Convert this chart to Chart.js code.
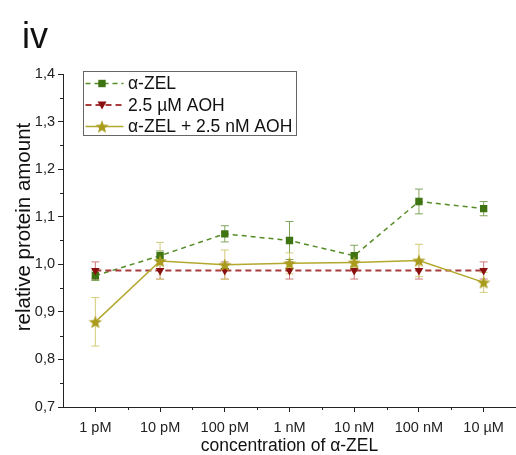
<!DOCTYPE html>
<html>
<head>
<meta charset="utf-8">
<script src="https://cdn.jsdelivr.net/npm/chart.js@4"></script>
<style>
  html, body { margin: 0; padding: 0; background: #fff; }
  #wrap { width: 516px; height: 455px; }
</style>
</head>
<body>
<div id="wrap"><canvas id="chart" width="516" height="455"></canvas></div>
<script>
// data
const categories = ["1 pM", "10 pM", "100 pM", "1 nM", "10 nM", "100 nM", "10 µM"];
const zelValues = [0.976, 1.018, 1.064, 1.050, 1.018, 1.132, 1.117];
const zelErrors = [0.010, 0.010, 0.017, 0.040, 0.022, 0.026, 0.015];
const aohValues = [0.987, 0.987, 0.987, 0.987, 0.987, 0.987, 0.987];
const aohErrors = [0.018, 0.018, 0.018, 0.018, 0.018, 0.018, 0.018];
const mixValues = [0.879, 1.007, 0.999, 1.002, 1.004, 1.008, 0.962];
const mixErrors = [0.051, 0.039, 0.031, 0.022, 0.010, 0.034, 0.021];
const yTicks = [0.7, 0.8, 0.9, 1.0, 1.1, 1.2, 1.3, 1.4];

const FONT = "'Liberation Sans', Arial, sans-serif";

function makeStar(size, color) {
    const c = document.createElement("canvas");
    c.width = size; c.height = size;
    const g = c.getContext("2d");
    const cx = size / 2, cy = size / 2 + size * 0.05;
    const R = size / 2, r = R * 0.42;
    g.beginPath();
    for (let i = 0; i < 10; i++) {
        const rad = i % 2 === 0 ? R : r;
        const a = -Math.PI / 2 + i * Math.PI / 5;
        g.lineTo(cx + rad * Math.cos(a), cy + rad * Math.sin(a));
    }
    g.closePath();
    g.fillStyle = color;
    g.fill();
    return c;
}
const starImg = makeStar(14, "#a99c1c");

const series = [
    { label: "α-ZEL", values: zelValues, errors: zelErrors, line: "#558c26", mark: "#3f7412", err: "#7fa55a", dash: [5, 4], width: 1.5, style: "rect", radius: 5.2, rot: 0, order: 3 },
    { label: "2.5 µM AOH", values: aohValues, errors: aohErrors, line: "#a83b3b", mark: "#8a0f0f", err: "#cf7a7a", dash: [6, 4], width: 2, style: "triangle", radius: 5, rot: 180, order: 2 },
    { label: "α-ZEL + 2.5 nM AOH", values: mixValues, errors: mixErrors, line: "#b3a82e", mark: "#a99c1c", err: "#d3cb7a", dash: [], width: 1.5, style: starImg, radius: 7, rot: 0, order: 1 }
];

const errorBars = {
    id: "errorBars",
    beforeDatasetsDraw(chart) {
        const ctx = chart.ctx, y = chart.scales.y;
        ctx.save();
        ctx.lineWidth = 1;
        series.forEach((s, di) => {
            const meta = chart.getDatasetMeta(di);
            ctx.strokeStyle = s.err;
            meta.data.forEach((pt, i) => {
                const top = y.getPixelForValue(s.values[i] + s.errors[i]);
                const bot = y.getPixelForValue(s.values[i] - s.errors[i]);
                ctx.beginPath();
                ctx.moveTo(pt.x, top); ctx.lineTo(pt.x, bot);
                ctx.moveTo(pt.x - 4, top); ctx.lineTo(pt.x + 4, top);
                ctx.moveTo(pt.x - 4, bot); ctx.lineTo(pt.x + 4, bot);
                ctx.stroke();
            });
        });
        ctx.restore();
    }
};

const extras = {
    id: "extras",
    afterDraw(chart) {
        const ctx = chart.ctx, x = chart.scales.x, y = chart.scales.y;
        const a = chart.chartArea;
        ctx.save();
        ctx.strokeStyle = "#222";
        ctx.lineWidth = 1;
        // minor ticks
        ctx.beginPath();
        for (let i = 0; i < categories.length; i++) {
            const px = Math.round((x.getPixelForValue(i) + x.getPixelForValue(i + 1)) / 2) + 0.5;
            ctx.moveTo(px, a.bottom); ctx.lineTo(px, a.bottom + 3);
        }
        for (let i = 0; i < yTicks.length - 1; i++) {
            const py = Math.round(y.getPixelForValue(yTicks[i] + 0.05)) + 0.5;
            ctx.moveTo(a.left, py); ctx.lineTo(a.left - 3, py);
        }
        ctx.stroke();

        // axis titles
        ctx.fillStyle = "#111";
        ctx.textAlign = "center";
        ctx.textBaseline = "middle";
        ctx.font = "17.5px " + FONT;
        ctx.fillText("concentration of α-ZEL", (a.left + a.right) / 2, 446);
        ctx.save();
        ctx.translate(24, 227);
        ctx.rotate(-Math.PI / 2);
        ctx.font = "20.5px " + FONT;
        ctx.fillText("relative protein amount", 0, 0);
        ctx.restore();

        // panel label
        ctx.textAlign = "left";
        ctx.font = "36px " + FONT;
        ctx.textBaseline = "alphabetic";
        ctx.fillText("iv", 22, 48);

        // legend
        const bx = 83.5, by = 71.5, bw = 213, bh = 64;
        ctx.fillStyle = "#fff";
        ctx.fillRect(bx, by, bw, bh);
        ctx.strokeStyle = "#666";
        ctx.strokeRect(bx, by, bw, bh);
        ctx.font = "17.5px " + FONT;
        ctx.textBaseline = "middle";
        series.forEach((s, i) => {
            const ly = 83.5 + i * 21.5;
            ctx.strokeStyle = s.line;
            ctx.lineWidth = s.width;
            ctx.setLineDash(s.dash);
            ctx.beginPath();
            ctx.moveTo(bx + 2, ly); ctx.lineTo(bx + 40, ly);
            ctx.stroke();
            ctx.setLineDash([]);
            if (s.style === "rect") {
                ctx.fillStyle = s.mark;
                ctx.fillRect(102 - 3.7, ly - 3.7, 7.4, 7.4);
            } else if (s.style === "triangle") {
                ctx.fillStyle = s.mark;
                ctx.beginPath();
                ctx.moveTo(102 - 4.5, ly - 3.5);
                ctx.lineTo(102 + 4.5, ly - 3.5);
                ctx.lineTo(102, ly + 4.5);
                ctx.closePath();
                ctx.fill();
            } else {
                ctx.drawImage(starImg, 102 - 7, ly - 7);
            }
            ctx.fillStyle = "#111";
            ctx.fillText(s.label, 128, ly + 1);
        });
        ctx.restore();
    }
};

const datasets = series.map(s => ({
    label: s.label,
    data: s.values,
    borderColor: s.line,
    borderWidth: s.width,
    borderDash: s.dash,
    backgroundColor: s.mark,
    pointBackgroundColor: s.mark,
    pointBorderColor: s.mark,
    pointBorderWidth: 0,
    pointStyle: s.style,
    pointRadius: s.radius,
    pointRotation: s.rot,
    tension: 0,
    fill: false,
    order: s.order
}));

new Chart(document.getElementById("chart").getContext("2d"), {
    type: "line",
    data: { labels: categories, datasets: datasets },
    options: {
        responsive: false,
        animation: false,
        layout: { autoPadding: false, padding: { top: 74, right: 0, left: 0, bottom: 0 } },
        plugins: {
            legend: { display: false },
            tooltip: { enabled: false }
        },
        scales: {
            x: {
                offset: true,
                afterFit: s => { s.height = 48; s.paddingLeft = 0; s.paddingRight = 0; },
                grid: { display: true, drawOnChartArea: false, offset: false, tickLength: 5, color: "#222" },
                border: { display: true, color: "#222", width: 1 },
                ticks: { color: "#222", font: { family: FONT, size: 14.5 }, padding: 7, maxRotation: 0, autoSkip: false }
            },
            y: {
                min: 0.7,
                max: 1.4,
                afterFit: s => { s.width = 63; },
                afterBuildTicks: s => { s.ticks = yTicks.map(v => ({ value: v })); },
                grid: { display: true, drawOnChartArea: false, tickLength: 5, color: "#222" },
                border: { display: true, color: "#222", width: 1 },
                ticks: {
                    color: "#222",
                    font: { family: FONT, size: 14.5 },
                    padding: 3,
                    callback: v => v.toFixed(1).replace(".", ",")
                }
            }
        }
    },
    plugins: [errorBars, extras]
});
</script>
</body>
</html>
